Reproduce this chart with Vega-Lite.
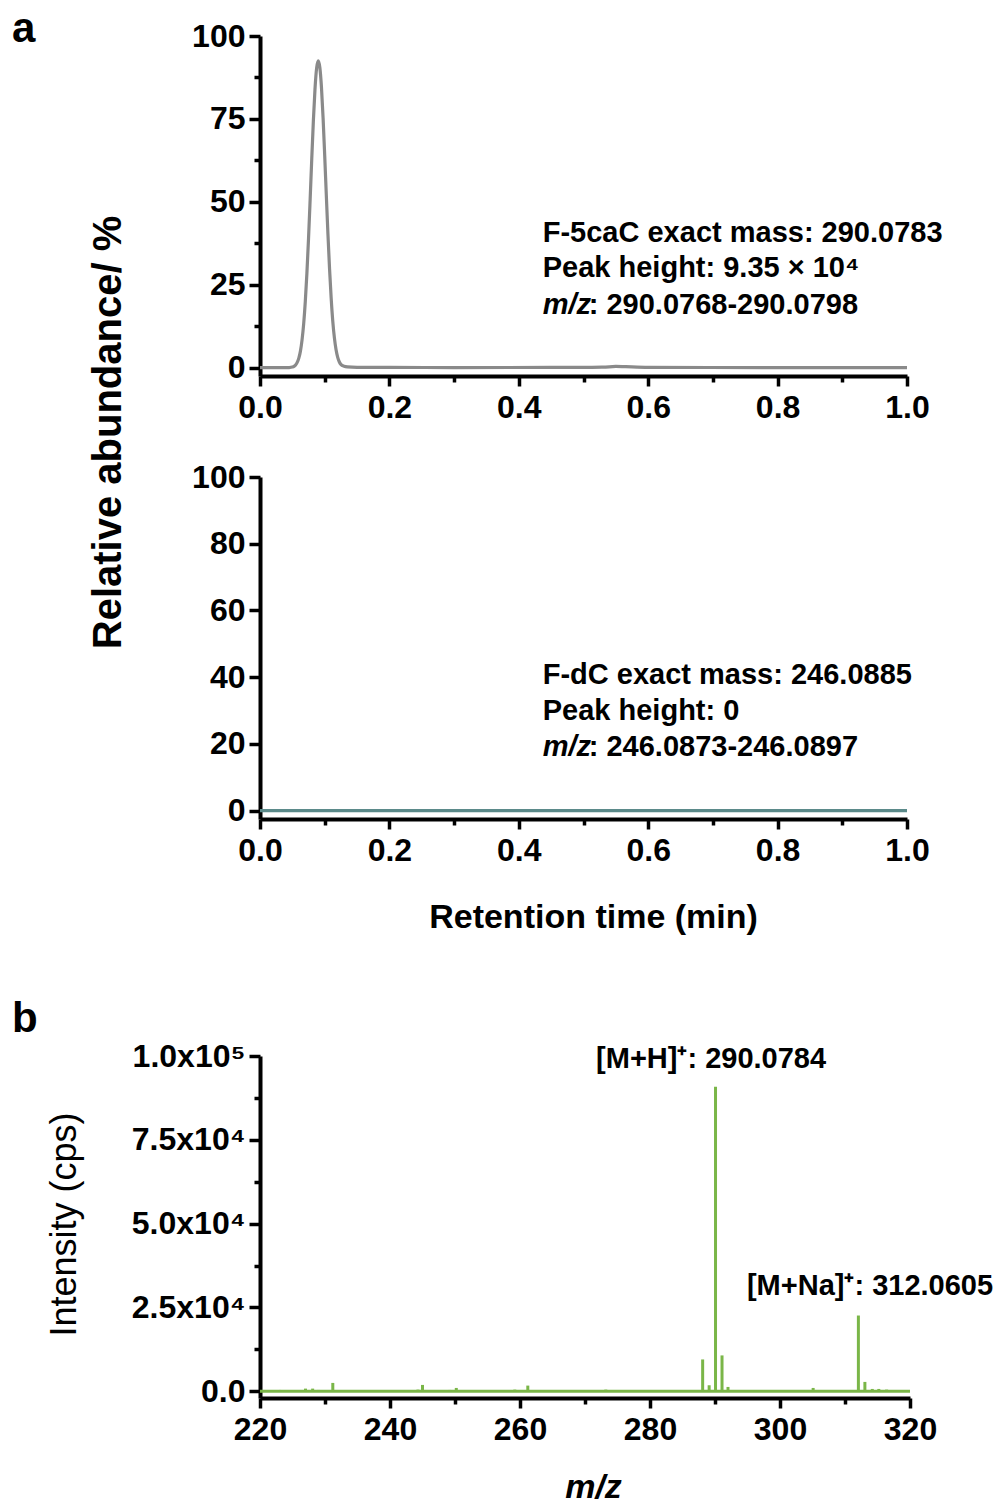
{
  "$schema": "https://vega.github.io/schema/vega-lite/v6.json",
  "padding": {"left": 12, "top": 8, "right": 0, "bottom": 0},
  "background": "white",
  "config": {
    "view": {"stroke": null},
    "font": "Liberation Sans",
    "axis": {
      "domainColor": "black", "domainWidth": 4, "tickColor": "black", "tickWidth": 3.5,
      "labelColor": "black", "labelFont": "Liberation Sans", "labelFontWeight": "bold", "labelFontSize": 32,
      "titleFont": "Liberation Sans", "titleColor": "black", "grid": false, "labelPadding": 4,
      "labelFlush": false, "labelOverlap": false
    }
  },
  "spacing": 64,
  "vconcat": [
    {
      "bounds": "flush",
      "spacing": 101,
      "vconcat": [
        {
          "width": 647,
          "height": 340,
          "title": {"text": "a", "anchor": "start", "frame": "group", "dx": -248, "offset": -64, "baseline": "alphabetic", "fontSize": 42, "fontWeight": "bold", "font": "Liberation Sans", "color": "black"},
          "layer": [
            {
              "data": {"values": [
                {"t": 0, "v": 0}, {"t": 0.02, "v": 0}, {"t": 0.04, "v": 0.02}, {"t": 0.045, "v": 0.05}, {"t": 0.05, "v": 0.2},
                {"t": 0.0525, "v": 0.4}, {"t": 0.055, "v": 0.83}, {"t": 0.0575, "v": 1.6}, {"t": 0.06, "v": 2.9},
                {"t": 0.0625, "v": 5.0}, {"t": 0.065, "v": 8.4}, {"t": 0.0675, "v": 13.2}, {"t": 0.07, "v": 19.9},
                {"t": 0.0725, "v": 28.5}, {"t": 0.075, "v": 38.9}, {"t": 0.0775, "v": 50.7}, {"t": 0.08, "v": 63.0},
                {"t": 0.0825, "v": 74.5}, {"t": 0.085, "v": 84.0}, {"t": 0.0875, "v": 90.3}, {"t": 0.09, "v": 92.5},
                {"t": 0.0925, "v": 90.5}, {"t": 0.095, "v": 84.5}, {"t": 0.0975, "v": 75.3}, {"t": 0.1, "v": 64.0},
                {"t": 0.1025, "v": 52.0}, {"t": 0.105, "v": 40.3}, {"t": 0.1075, "v": 29.8}, {"t": 0.11, "v": 21.0},
                {"t": 0.1125, "v": 14.0}, {"t": 0.115, "v": 9.0}, {"t": 0.1175, "v": 5.5}, {"t": 0.12, "v": 3.2},
                {"t": 0.1225, "v": 1.8}, {"t": 0.125, "v": 1.0}, {"t": 0.13, "v": 0.45}, {"t": 0.135, "v": 0.25},
                {"t": 0.15, "v": 0.12}, {"t": 0.2, "v": 0.1}, {"t": 0.3, "v": 0.05}, {"t": 0.45, "v": 0.08},
                {"t": 0.53, "v": 0.15}, {"t": 0.55, "v": 0.4}, {"t": 0.565, "v": 0.3}, {"t": 0.6, "v": 0.1},
                {"t": 0.8, "v": 0.05}, {"t": 1.0, "v": 0}
              ]},
              "mark": {"type": "line", "color": "#8a8a8a", "strokeWidth": 3.2, "interpolate": "monotone"},
              "encoding": {
                "x": {"field": "t", "type": "quantitative", "scale": {"domain": [0, 1], "nice": false, "zero": false},
                  "axis": {"title": null, "values": [0, 0.1, 0.2, 0.3, 0.4, 0.5, 0.6, 0.7, 0.8, 0.9, 1.0],
                    "labelExpr": "round(datum.value*10) % 2 === 0 ? format(datum.value, '.1f') : ''",
                    "tickSize": {"condition": {"test": "round(datum.value*10) % 2 === 0", "value": 10}, "value": 6},
                    "labelPadding": 6}},
                "y": {"field": "v", "type": "quantitative", "scale": {"domain": [-2.5, 100], "nice": false, "zero": false},
                  "axis": {"title": "Relative abundance/ %", "titleFontSize": 40, "titleFontWeight": "bold",
                    "titleX": -152, "titleY": 396, "titleAlign": "center", "titleBaseline": "middle",
                    "values": [0, 12.5, 25, 37.5, 50, 62.5, 75, 87.5, 100], "format": "d",
                    "labelExpr": "datum.value % 25 === 0 ? datum.label : ''",
                    "tickSize": {"condition": {"test": "datum.value % 25 === 0", "value": 11}, "value": 6}}}
              }
            },
            {
              "data": {"values": [
                {"t": 0.437, "v": 40.6, "label": "F-5caC exact mass: 290.0783"},
                {"t": 0.437, "v": 30.1, "label": "Peak height: 9.35 × 10⁴"}
              ]},
              "mark": {"type": "text", "align": "left", "baseline": "middle", "fontSize": 29, "fontWeight": "bold", "font": "Liberation Sans", "color": "black"},
              "encoding": {"x": {"field": "t", "type": "quantitative"}, "y": {"field": "v", "type": "quantitative"}, "text": {"field": "label"}}
            },
            {
              "data": {"values": [{"t": 0.437, "v": 18.9, "label": "m/z"}]},
              "mark": {"type": "text", "align": "left", "baseline": "middle", "fontSize": 29, "fontWeight": "bold", "fontStyle": "italic", "font": "Liberation Sans", "color": "black"},
              "encoding": {"x": {"field": "t", "type": "quantitative"}, "y": {"field": "v", "type": "quantitative"}, "text": {"field": "label"}}
            },
            {
              "data": {"values": [{"t": 0.437, "v": 18.9, "label": ": 290.0768-290.0798"}]},
              "mark": {"type": "text", "align": "left", "baseline": "middle", "dx": 46, "fontSize": 29, "fontWeight": "bold", "font": "Liberation Sans", "color": "black"},
              "encoding": {"x": {"field": "t", "type": "quantitative"}, "y": {"field": "v", "type": "quantitative"}, "text": {"field": "label"}}
            }
          ]
        },
        {
          "width": 647,
          "height": 342,
          "layer": [
            {
              "data": {"values": [
                {"t": 0, "v": 0}, {"t": 0.25, "v": 0}, {"t": 0.5, "v": 0}, {"t": 0.75, "v": 0}, {"t": 1.0, "v": 0}
              ]},
              "mark": {"type": "line", "color": "#5b8a8a", "strokeWidth": 3.2},
              "encoding": {
                "x": {"field": "t", "type": "quantitative", "scale": {"domain": [0, 1], "nice": false, "zero": false},
                  "axis": {"title": "Retention time (min)", "titleFontSize": 34, "titleFontWeight": "bold", "titleX": 333, "titlePadding": 34,
                    "values": [0, 0.1, 0.2, 0.3, 0.4, 0.5, 0.6, 0.7, 0.8, 0.9, 1.0],
                    "labelExpr": "round(datum.value*10) % 2 === 0 ? format(datum.value, '.1f') : ''",
                    "tickSize": {"condition": {"test": "round(datum.value*10) % 2 === 0", "value": 10}, "value": 6},
                    "labelPadding": 6}},
                "y": {"field": "v", "type": "quantitative", "scale": {"domain": [-2.5, 100], "nice": false, "zero": false},
                  "axis": {"title": null,
                    "values": [0, 10, 20, 30, 40, 50, 60, 70, 80, 90, 100], "format": "d",
                    "labelExpr": "datum.value % 20 === 0 ? datum.label : ''",
                    "tickSize": {"condition": {"test": "datum.value % 20 === 0", "value": 11}, "value": 6}}}
              }
            },
            {
              "data": {"values": [
                {"t": 0.437, "v": 40.7, "label": "F-dC exact mass: 246.0885"},
                {"t": 0.437, "v": 29.9, "label": "Peak height: 0"}
              ]},
              "mark": {"type": "text", "align": "left", "baseline": "middle", "fontSize": 29, "fontWeight": "bold", "font": "Liberation Sans", "color": "black"},
              "encoding": {"x": {"field": "t", "type": "quantitative"}, "y": {"field": "v", "type": "quantitative"}, "text": {"field": "label"}}
            },
            {
              "data": {"values": [{"t": 0.437, "v": 19.1, "label": "m/z"}]},
              "mark": {"type": "text", "align": "left", "baseline": "middle", "fontSize": 29, "fontWeight": "bold", "fontStyle": "italic", "font": "Liberation Sans", "color": "black"},
              "encoding": {"x": {"field": "t", "type": "quantitative"}, "y": {"field": "v", "type": "quantitative"}, "text": {"field": "label"}}
            },
            {
              "data": {"values": [{"t": 0.437, "v": 19.1, "label": ": 246.0873-246.0897"}]},
              "mark": {"type": "text", "align": "left", "baseline": "middle", "dx": 46, "fontSize": 29, "fontWeight": "bold", "font": "Liberation Sans", "color": "black"},
              "encoding": {"x": {"field": "t", "type": "quantitative"}, "y": {"field": "v", "type": "quantitative"}, "text": {"field": "label"}}
            }
          ]
        }
      ]
    },
    {
      "width": 650,
      "height": 342,
      "title": {"text": "b", "anchor": "start", "frame": "group", "dx": -248, "offset": -34, "baseline": "alphabetic", "fontSize": 42, "fontWeight": "bold", "font": "Liberation Sans", "color": "black"},
      "layer": [
        {
          "data": {"values": [{"mz": 220, "intensity": 0}, {"mz": 320, "intensity": 0}]},
          "mark": {"type": "line", "color": "#7ab648", "strokeWidth": 3},
          "encoding": {
            "x": {"field": "mz", "type": "quantitative", "scale": {"domain": [220, 320], "nice": false, "zero": false},
              "axis": {"title": "m/z", "titleFontSize": 34, "titleFontWeight": "bold", "titleFontStyle": "italic", "titleX": 333, "titlePadding": 25,
                "values": [220, 230, 240, 250, 260, 270, 280, 290, 300, 310, 320], "format": "d",
                "labelExpr": "datum.value % 20 === 0 ? datum.label : ''",
                "tickSize": {"condition": {"test": "datum.value % 20 === 0", "value": 10}, "value": 6},
                "labelPadding": 6}},
            "y": {"field": "intensity", "type": "quantitative", "scale": {"domain": [-2000, 100000], "nice": false, "zero": false},
              "axis": {"title": "Intensity (cps)", "titleFontSize": 36, "titleFontWeight": "normal",
                "titleX": -196, "titleY": 168, "titleAlign": "center", "titleBaseline": "middle",
                "values": [0, 12500, 25000, 37500, 50000, 62500, 75000, 87500, 100000],
                "labelExpr": "datum.value === 0 ? '0.0' : datum.value === 25000 ? '2.5x10⁴' : datum.value === 50000 ? '5.0x10⁴' : datum.value === 75000 ? '7.5x10⁴' : datum.value === 100000 ? '1.0x10⁵' : ''",
                "tickSize": {"condition": {"test": "datum.value % 25000 === 0", "value": 11}, "value": 6}}}
          }
        },
        {
          "data": {"values": [
            {"mz": 223.1, "intensity": 400}, {"mz": 227.0, "intensity": 800}, {"mz": 228.1, "intensity": 800},
            {"mz": 229.0, "intensity": 400}, {"mz": 229.8, "intensity": 300}, {"mz": 231.2, "intensity": 2500},
            {"mz": 232.5, "intensity": 200}, {"mz": 240.5, "intensity": 200}, {"mz": 244.3, "intensity": 500},
            {"mz": 245.0, "intensity": 1900}, {"mz": 245.6, "intensity": 300}, {"mz": 249.2, "intensity": 400},
            {"mz": 250.2, "intensity": 1000}, {"mz": 259.2, "intensity": 500}, {"mz": 261.2, "intensity": 1700},
            {"mz": 263.0, "intensity": 200}, {"mz": 273.2, "intensity": 500}, {"mz": 280.3, "intensity": 300},
            {"mz": 288.1, "intensity": 9500}, {"mz": 289.1, "intensity": 1800}, {"mz": 290.08, "intensity": 90800},
            {"mz": 291.08, "intensity": 10700}, {"mz": 292.0, "intensity": 1300}, {"mz": 296.1, "intensity": 300},
            {"mz": 301.0, "intensity": 300}, {"mz": 305.1, "intensity": 1000}, {"mz": 312.06, "intensity": 22600},
            {"mz": 313.06, "intensity": 2800}, {"mz": 314.2, "intensity": 700}, {"mz": 315.2, "intensity": 700},
            {"mz": 316.4, "intensity": 500}, {"mz": 316.9, "intensity": 300}
          ]},
          "mark": {"type": "rule", "color": "#7ab648", "strokeWidth": 3},
          "encoding": {
            "x": {"field": "mz", "type": "quantitative"},
            "y": {"field": "intensity", "type": "quantitative"},
            "y2": {"datum": 0}
          }
        },
        {
          "data": {"values": [
            {"mz": 289.4, "intensity": 99100, "label": "[M+H]⁺: 290.0784"},
            {"mz": 313.85, "intensity": 31400, "label": "[M+Na]⁺: 312.0605"}
          ]},
          "mark": {"type": "text", "align": "center", "baseline": "middle", "fontSize": 29, "fontWeight": "bold", "font": "Liberation Sans", "color": "black"},
          "encoding": {"x": {"field": "mz", "type": "quantitative"}, "y": {"field": "intensity", "type": "quantitative"}, "text": {"field": "label"}}
        }
      ]
    }
  ]
}
